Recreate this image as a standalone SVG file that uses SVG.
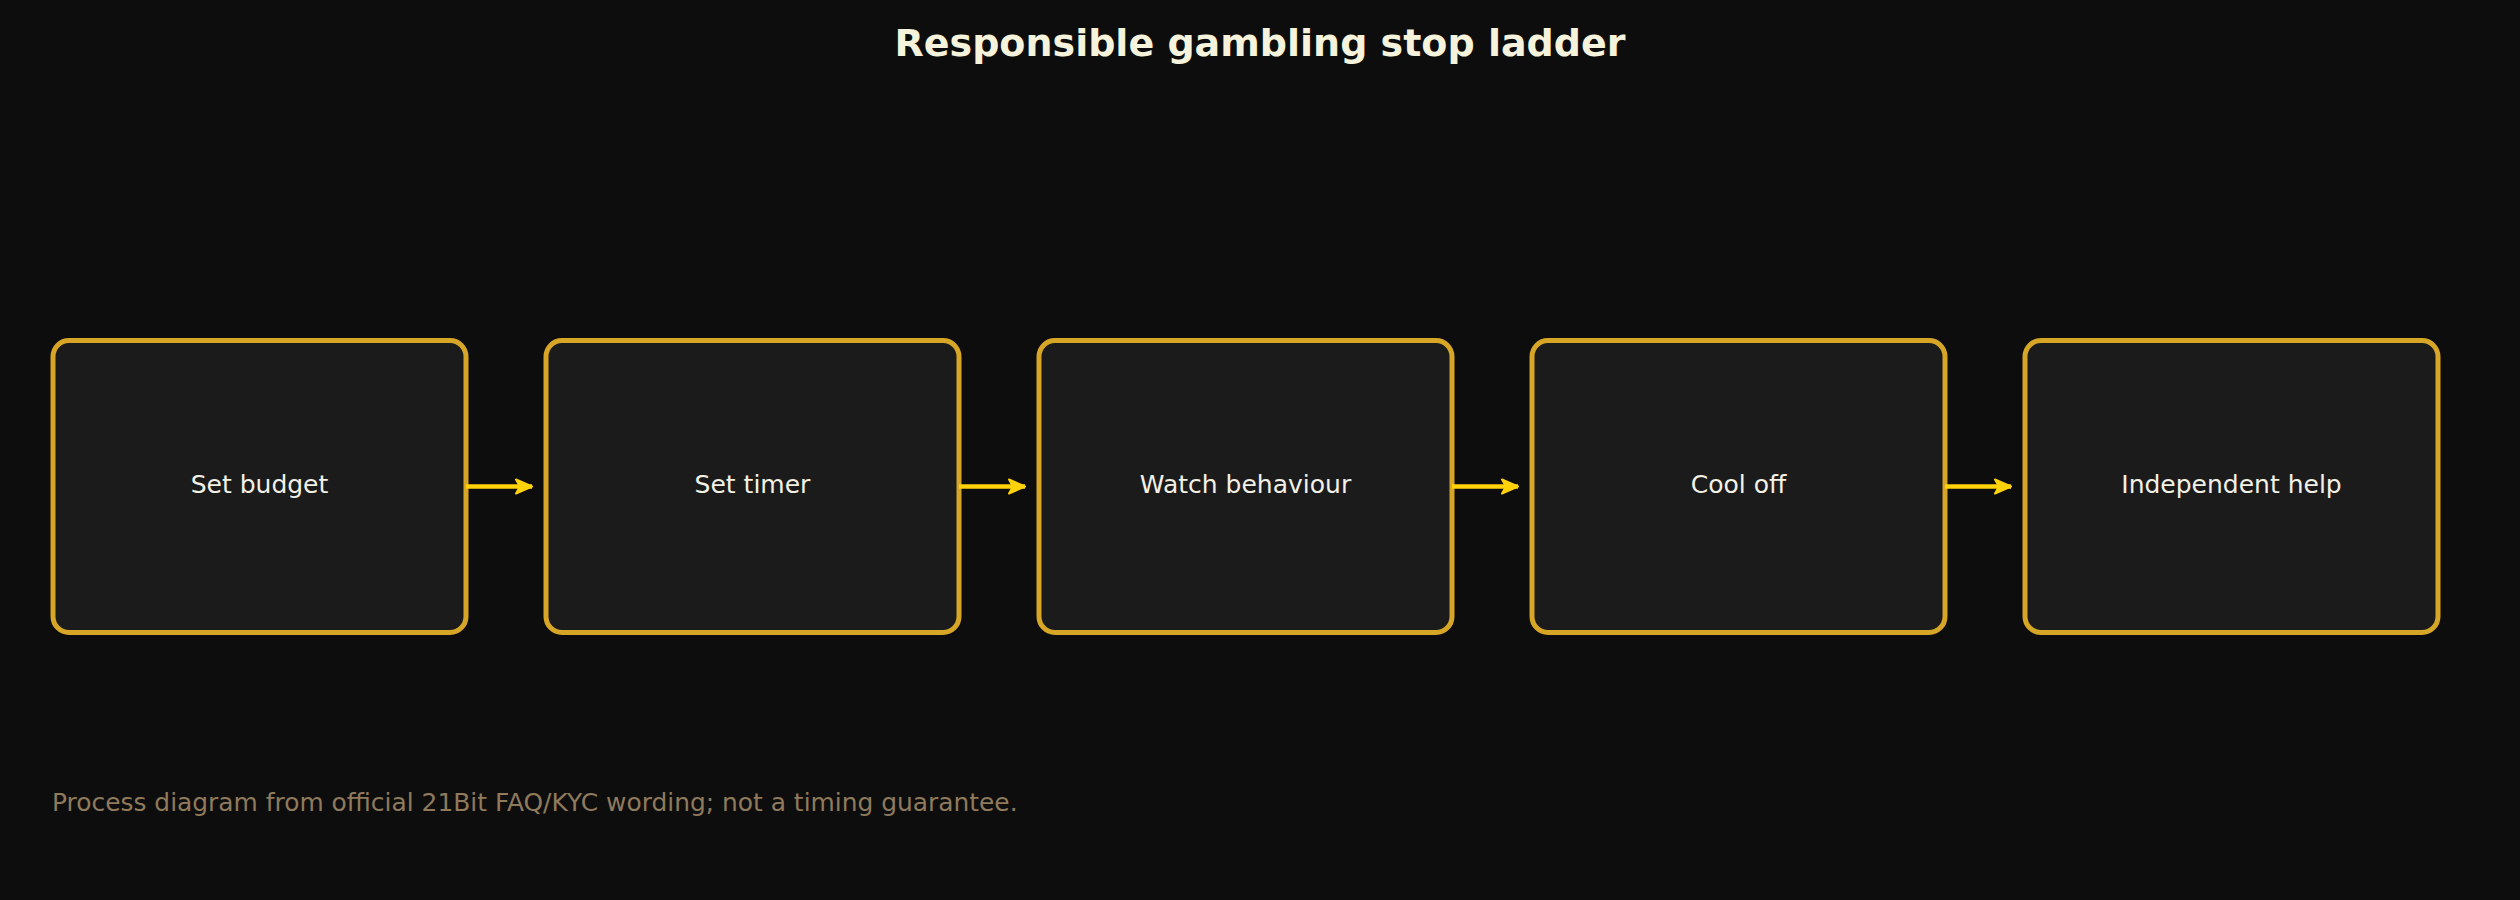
<svg xmlns="http://www.w3.org/2000/svg" width="2520" height="900" viewBox="0 0 2520 900">
<style>
.bg{fill:#0d0d0d}
.box{fill:#1b1b1b;stroke:#d7a626;stroke-width:5}
.lbl{font-family:"DejaVu Sans",sans-serif;font-size:25px;fill:#f3f1e6;text-anchor:middle}
.title{font-family:"DejaVu Sans",sans-serif;font-size:38px;font-weight:bold;fill:#f5f3dc;text-anchor:middle}
.foot{font-family:"DejaVu Sans",sans-serif;font-size:24.9px;fill:#8f7a5c}
.edge{stroke:#ffd20a;stroke-width:4.5;fill:none}
</style>
<defs>
<marker id="ah" viewBox="0 0 18 18" refX="17" refY="9" markerWidth="18" markerHeight="18" markerUnits="userSpaceOnUse" orient="auto">
<path d="M1,2 L17,9 L1,16 L5,9 Z" fill="#ffd20a" stroke="#ffd20a" stroke-width="2" stroke-linejoin="round"/>
</marker>
</defs>
<rect class="bg" x="0" y="0" width="2520" height="900"/>
<text class="title" x="1260" y="56">Responsible gambling stop ladder</text>
<g id="n1"><rect class="box" x="53" y="340.5" width="413" height="292" rx="16"/><text class="lbl" x="259.5" y="493">Set budget</text></g>
<g id="n2"><rect class="box" x="546" y="340.5" width="413" height="292" rx="16"/><text class="lbl" x="752.5" y="493">Set timer</text></g>
<g id="n3"><rect class="box" x="1039" y="340.5" width="413" height="292" rx="16"/><text class="lbl" x="1245.5" y="493">Watch behaviour</text></g>
<g id="n4"><rect class="box" x="1532" y="340.5" width="413" height="292" rx="16"/><text class="lbl" x="1738.5" y="493">Cool off</text></g>
<g id="n5"><rect class="box" x="2025" y="340.5" width="413" height="292" rx="16"/><text class="lbl" x="2231.5" y="493">Independent help</text></g>
<g id="edges">
<path class="edge" d="M466,486.5 H532" marker-end="url(#ah)"/>
<path class="edge" d="M959,486.5 H1025" marker-end="url(#ah)"/>
<path class="edge" d="M1452,486.5 H1518" marker-end="url(#ah)"/>
<path class="edge" d="M1945,486.5 H2011" marker-end="url(#ah)"/>
</g>
<text class="foot" x="52" y="811">Process diagram from official 21Bit FAQ/KYC wording; not a timing guarantee.</text>
</svg>
